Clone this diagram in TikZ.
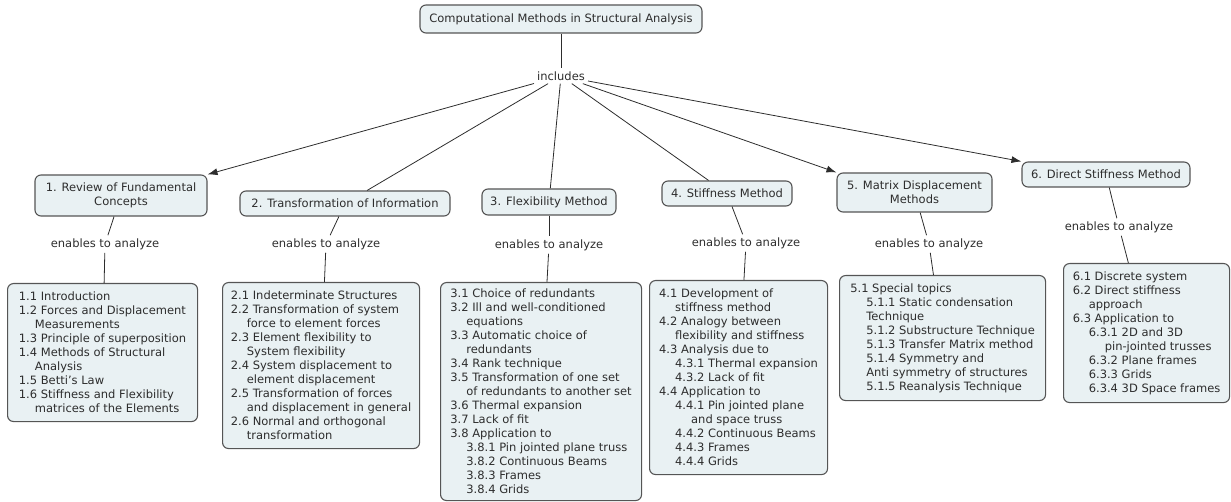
\documentclass[tikz,border=0pt]{standalone}
\usepackage{fontspec}
\setmainfont{DejaVu Sans}
\usepackage{tikz}
\usetikzlibrary{shapes, arrows.meta, calc, positioning}

\definecolor{boxfill}{RGB}{233,241,243}
\definecolor{boxline}{RGB}{85,85,85}
\definecolor{inktext}{RGB}{45,45,45}

\newcommand{\subin}{\hspace*{16pt}}

\begin{document}
\begin{tikzpicture}[x=1pt, y=-1pt, >={Latex[length=10pt, width=7pt]}, font=\fontsize{11.5}{14}\selectfont, text=inktext]

    % Define styles
    \tikzstyle{concept} = [rectangle, rounded corners=6pt, draw=boxline, line width=1.1pt, fill=boxfill, align=center, inner sep=3pt]
    \tikzstyle{topics} = [concept, align=left, anchor=north west, inner xsep=8pt]
    \tikzstyle{phrase} = [inner sep=3pt]
    \tikzstyle{conn} = [draw=inktext, line width=0.8pt]

    \useasboundingbox (0,0) rectangle (1231,502);

    % Nodes
    \node (root) [concept, minimum width=282pt, minimum height=28pt] at (561,19) {Computational Methods in Structural Analysis};
    \node (incl) [phrase] at (561,76) {includes};

    \node (review) [concept, minimum width=172pt, minimum height=41pt] at (121,195.5) {1. Review of Fundamental\\Concepts};
    \node (transf) [concept, minimum width=210pt, minimum height=25pt] at (345,203.5) {2. Transformation of Information};
    \node (flexm) [concept, minimum width=134pt, minimum height=26pt] at (549,202) {3. Flexibility Method};
    \node (stiffm) [concept, minimum width=130pt, minimum height=25pt] at (727,193.5) {4. Stiffness Method};
    \node (matdisp) [concept, minimum width=155pt, minimum height=39pt] at (914.5,192.5) {5. Matrix Displacement\\Methods};
    \node (direct) [concept, minimum width=168pt, minimum height=25pt] at (1106,174.5) {6. Direct Stiffness Method};

    \node (reviewrel) [phrase] at (105,244) {enables to analyze};
    \node (transfrel) [phrase] at (326,244) {enables to analyze};
    \node (flexmrel) [phrase] at (549,245) {enables to analyze};
    \node (stiffmrel) [phrase] at (746,243) {enables to analyze};
    \node (matdisprel) [phrase] at (929,244) {enables to analyze};
    \node (directrel) [phrase] at (1119,227) {enables to analyze};

    \node (reviewlist) [topics, minimum width=190pt, minimum height=138pt] at (7,283) {%
        1.1 Introduction\\
        1.2 Forces and Displacement\\
        \subin Measurements\\
        1.3 Principle of superposition\\
        1.4 Methods of Structural\\
        \subin Analysis\\
        1.5 Betti’s Law\\
        1.6 Stiffness and Flexibility\\
        \subin matrices of the Elements};
    \node (transflist) [topics, minimum width=197pt, minimum height=166pt] at (222,282) {%
        2.1 Indeterminate Structures\\
        2.2 Transformation of system\\
        \subin force to element forces\\
        2.3 Element flexibility to\\
        \subin System flexibility\\
        2.4 System displacement to\\
        \subin element displacement\\
        2.5 Transformation of forces\\
        \subin and displacement in general\\
        2.6 Normal and orthogonal\\
        \subin transformation};
    \node (flexmlist) [topics, minimum width=201pt, minimum height=218pt] at (440,282) {%
        3.1 Choice of redundants\\
        3.2 Ill and well-conditioned\\
        \subin equations\\
        3.3 Automatic choice of\\
        \subin redundants\\
        3.4 Rank technique\\
        3.5 Transformation of one set\\
        \subin of redundants to another set\\
        3.6 Thermal expansion\\
        3.7 Lack of fit\\
        3.8 Application to\\
        \subin 3.8.1 Pin jointed plane truss\\
        \subin 3.8.2 Continuous Beams\\
        \subin 3.8.3 Frames\\
        \subin 3.8.4 Grids};
    \node (stiffmlist) [topics, minimum width=178pt, minimum height=194pt] at (649,280) {%
        4.1 Development of\\
        \subin stiffness method\\
        4.2 Analogy between\\
        \subin flexibility and stiffness\\
        4.3 Analysis due to\\
        \subin 4.3.1 Thermal expansion\\
        \subin 4.3.2 Lack of fit\\
        4.4 Application to\\
        \subin 4.4.1 Pin jointed plane\\
        \subin\subin and space truss\\
        \subin 4.4.2 Continuous Beams\\
        \subin 4.4.3 Frames\\
        \subin 4.4.4 Grids};
    \node (matdisplist) [topics, minimum width=206pt, minimum height=125pt] at (839,275) {%
        5.1 Special topics\\
        \subin 5.1.1 Static condensation\\
        \subin Technique\\
        \subin 5.1.2 Substructure Technique\\
        \subin 5.1.3 Transfer Matrix method\\
        \subin 5.1.4 Symmetry and\\
        \subin Anti symmetry of structures\\
        \subin 5.1.5 Reanalysis Technique};
    \node (directlist) [topics, minimum width=166pt, minimum height=139pt] at (1063,263) {%
        6.1 Discrete system\\
        6.2 Direct stiffness\\
        \subin approach\\
        6.3 Application to\\
        \subin 6.3.1 2D and 3D\\
        \subin\subin pin-jointed trusses\\
        \subin 6.3.2 Plane frames\\
        \subin 6.3.3 Grids\\
        \subin 6.3.4 3D Space frames};

    % Arrows
    \draw [conn] (root) -- (incl);
    \draw [conn, ->] (incl) -- (review.north east);
    \draw [conn] (incl) -- (transf);
    \draw [conn] (incl) -- (flexm);
    \draw [conn] (incl) -- (stiffm);
    \draw [conn, ->] (incl) -- (matdisp.north west);
    \draw [conn, ->] (incl) -- (direct.north west);

    \draw [conn] (review) -- (reviewrel);
    \draw [conn] (reviewrel) -- (reviewlist);
    \draw [conn] (transf) -- (transfrel);
    \draw [conn] (transfrel) -- (transflist);
    \draw [conn] (flexm) -- (flexmrel);
    \draw [conn] (flexmrel) -- (flexmlist);
    \draw [conn] (stiffm) -- (stiffmrel);
    \draw [conn] (stiffmrel) -- (stiffmlist);
    \draw [conn] (matdisp) -- (matdisprel);
    \draw [conn] (matdisprel) -- (matdisplist);
    \draw [conn] (direct) -- (directrel);
    \draw [conn] (directrel) -- (directlist);

\end{tikzpicture}
\end{document}
